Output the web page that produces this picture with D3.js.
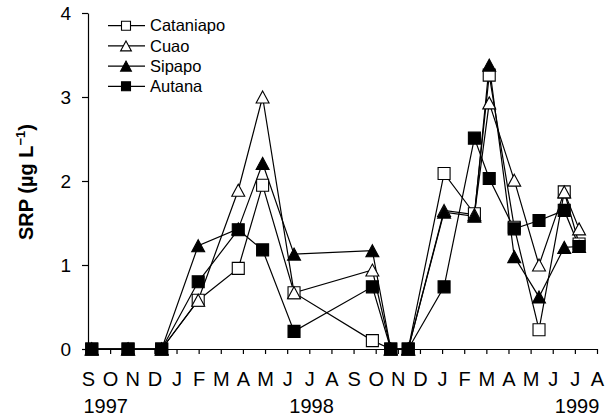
<!DOCTYPE html>
<html>
<head>
<meta charset="utf-8">
<script src="https://cdn.jsdelivr.net/npm/d3@7"></script>
<style>
  body { margin: 0; background: #fff; }
  text { font-family: "Liberation Sans", Arial, sans-serif; }
</style>
</head>
<body>
<script>
// month labels, Sep 1997 .. Aug 1999
var months = ["S","O","N","D","J","F","M","A","M","J","J","A",
              "S","O","N","D","J","F","M","A","M","J","J","A"];
var years = [["1997", 0.8], ["1998", 10.1], ["1999", 22.1]];

// sampling dates as month offsets from Sep 1997
var sampleMonth = [0.17, 1.81, 3.33, 4.98, 6.79, 7.89, 9.31, 12.85, 13.68, 14.47,
                   16.09, 17.46, 18.13, 19.26, 20.38, 21.52, 22.19];

var cataniapo = [0, 0, 0, 0.58, 0.96, 1.95, 0.67, 0.10, 0, 0, 2.09, 1.61, 3.26, 1.45, 0.23, 1.87, 1.25];
var cuao      = [0, 0, 0, 0.58, 1.89, 3.00, 0.67, 0.94, 0, 0, 1.65, 1.60, 2.93, 2.01, 1.00, 1.87, 1.43];
var sipapo    = [0, 0, 0, 1.23, 1.43, 2.21, 1.13, 1.17, 0, 0, 1.63, 1.58, 3.38, 1.10, 0.62, 1.21, 1.22];
var autana    = [0, 0, 0, 0.80, 1.42, 1.18, 0.21, 0.74, 0, 0, 0.74, 2.51, 2.03, 1.43, 1.53, 1.65, 1.22];

var series = [
  {name: "Cataniapo", values: cataniapo, shape: "square",   fill: "#fff"},
  {name: "Cuao",      values: cuao,      shape: "triangle", fill: "#fff"},
  {name: "Sipapo",    values: sipapo,    shape: "triangle", fill: "#000"},
  {name: "Autana",    values: autana,    shape: "square",   fill: "#000"}
];

var svg = d3.select("body").append("svg")
    .attr("width", 615)
    .attr("height", 417);

var x = d3.scaleLinear().domain([0, 23]).range([88, 597]);
var y = d3.scaleLinear().domain([0, 4]).range([349, 13]);

function marker(shape, s) {
  if (shape == "square") {
    var h = s / 2;
    return "M" + (-h) + "," + (-h) + "h" + s + "v" + s + "h" + (-s) + "Z";
  }
  var w = s * 1.08 / 2, t = s / 2;
  return "M0," + (-t) + "L" + w + "," + t + "L" + (-w) + "," + t + "Z";
}

// axes
var xAxis = d3.axisBottom(x)
    .tickValues(d3.range(0, 24))
    .tickFormat(function(d) { return months[d]; })
    .tickSize(5).tickSizeOuter(0).tickPadding(18);
var gx = svg.append("g").attr("transform", "translate(0,349)").call(xAxis);
gx.selectAll("text").style("font-size", "20px").attr("fill", "#000");

var yAxis = d3.axisLeft(y).tickValues([0, 1, 2, 3, 4])
    .tickFormat(d3.format("d"))
    .tickSize(6).tickSizeOuter(0).tickPadding(11);
var gy = svg.append("g").attr("transform", "translate(88,0)").call(yAxis);
gy.selectAll("text").style("font-size", "19px").attr("fill", "#000");

svg.selectAll("g path.domain, g .tick line").attr("stroke", "#000").attr("stroke-width", 1.2);

svg.selectAll(".year")
    .data(years)
    .enter()
    .append("text")
    .attr("class", "year")
    .attr("x", function(d) { return x(d[1]); })
    .attr("y", 413)
    .attr("text-anchor", "middle")
    .style("font-size", "20px")
    .text(function(d) { return d[0]; });

var yl = svg.append("text")
    .attr("transform", "translate(33,182) rotate(-90)")
    .attr("text-anchor", "middle")
    .style("font-size", "20px")
    .style("font-weight", "bold");
yl.append("tspan").text("SRP (\u00b5g L");
yl.append("tspan").attr("dy", -8).style("font-size", "13px").text("\u22121");
yl.append("tspan").attr("dy", 8).text(")");

// lines and markers
var line = d3.line()
    .x(function(d, i) { return x(sampleMonth[i]); })
    .y(function(d) { return y(d); });

series.forEach(function(s) {
  svg.append("path")
      .attr("d", line(s.values))
      .attr("fill", "none")
      .attr("stroke", "#000")
      .attr("stroke-width", 1.2);
});

series.forEach(function(s) {
  svg.selectAll(null)
      .data(s.values)
      .enter()
      .append("path")
      .attr("d", marker(s.shape, 12))
      .attr("transform", function(d, i) {
        return "translate(" + x(sampleMonth[i]) + "," + y(d) + ")";
      })
      .attr("fill", s.fill)
      .attr("stroke", "#000")
      .attr("stroke-width", 1.1);
});

// legend
var legend = svg.selectAll(".legend")
    .data(series)
    .enter()
    .append("g")
    .attr("transform", function(d, i) { return "translate(0," + (25.7 + i * 20.2) + ")"; });

legend.append("line")
    .attr("x1", 108).attr("x2", 145)
    .attr("stroke", "#000").attr("stroke-width", 1.2);
legend.append("path")
    .attr("d", function(d) { return marker(d.shape, d.shape == "square" ? 9 : 10); })
    .attr("transform", "translate(126,0)")
    .attr("fill", function(d) { return d.fill; })
    .attr("stroke", "#000")
    .attr("stroke-width", 1.1);
legend.append("text")
    .attr("x", 150)
    .attr("dy", "0.35em")
    .style("font-size", "16.5px")
    .text(function(d) { return d.name; });
</script>
</body>
</html>
